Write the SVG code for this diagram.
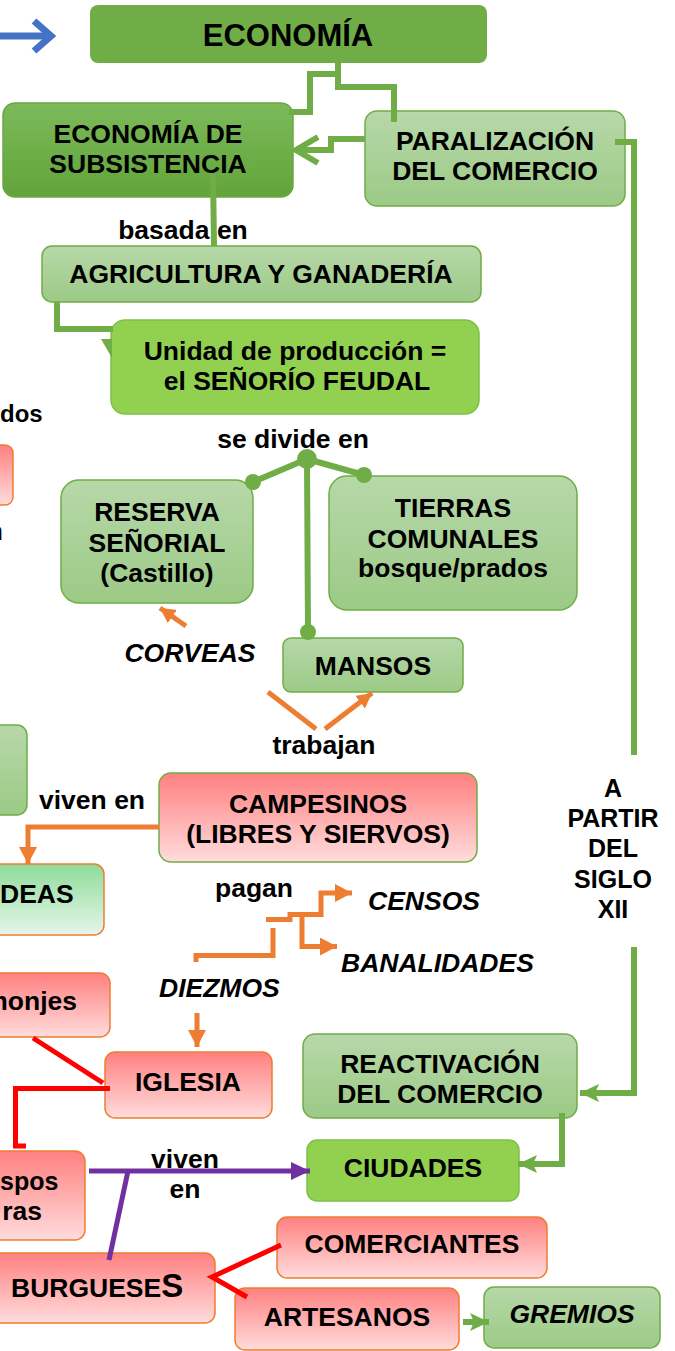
<svg xmlns="http://www.w3.org/2000/svg" width="675" height="1351" viewBox="0 0 675 1351">
<defs>
<linearGradient id="gLight" x1="0" y1="0" x2="0" y2="1"><stop offset="0" stop-color="#b7d8a9"/><stop offset="1" stop-color="#9cca86"/></linearGradient>
<linearGradient id="gDark" x1="0" y1="0" x2="0" y2="1"><stop offset="0" stop-color="#7cba5a"/><stop offset="1" stop-color="#62a43a"/></linearGradient>
<linearGradient id="gPink" x1="0" y1="0" x2="0" y2="1"><stop offset="0" stop-color="#ff8080"/><stop offset="1" stop-color="#ffdcdc"/></linearGradient>
<linearGradient id="gMint" x1="0" y1="0" x2="0" y2="1"><stop offset="0" stop-color="#8edc9a"/><stop offset="1" stop-color="#e6f6e9"/></linearGradient>
<marker id="mo" markerUnits="userSpaceOnUse" markerWidth="18" markerHeight="18" refX="17" refY="9" orient="auto"><path d="M0,0 L17,9 L0,18 z" fill="#ed7d31"/></marker>
<marker id="mos" markerUnits="userSpaceOnUse" markerWidth="16" markerHeight="16" refX="15" refY="8" orient="auto"><path d="M0,0 L15,8 L0,16 z" fill="#ed7d31"/></marker>
<marker id="mg" markerUnits="userSpaceOnUse" markerWidth="20" markerHeight="20" refX="19" refY="9" orient="auto"><path d="M0,0 L19,9 L0,18 L4,9 z" fill="#70ad47"/></marker>
<marker id="mp" markerUnits="userSpaceOnUse" markerWidth="20" markerHeight="20" refX="19" refY="9" orient="auto"><path d="M0,0 L19,9 L0,18 z" fill="#7030a0"/></marker>
</defs>
<style>
text{font-family:"Liberation Sans",Arial,sans-serif;font-weight:bold;font-size:26.5px;fill:#000;text-anchor:middle}
.it{font-style:italic}
.st{text-anchor:start}
.en{text-anchor:end}
.lg{fill:url(#gLight);stroke:#70ad47;stroke-width:1.5}
.pk{fill:url(#gPink);stroke:#ed7d31;stroke-width:1.5}
.bg{fill:#92d050;stroke:#7fc048;stroke-width:1.5}
.gl{fill:none;stroke:#70ad47;stroke-width:6}
.ol{fill:none;stroke:#ed7d31;stroke-width:5}
.rl{fill:none;stroke:#ff0000;stroke-width:5}
.pl{fill:none;stroke:#7030a0;stroke-width:5}
</style>
<rect width="675" height="1351" fill="#fff"/>

<g id="blue-arrow" fill="none" stroke="#4472c4" stroke-width="7">
<path d="M0 36 H48"/>
<path d="M34 21 L51 36 L34 51"/>
</g>

<g id="n-economia"><rect x="90" y="5" width="397" height="58" rx="8" fill="#70ad47"/><text x="288" y="46" style="font-size:31px">ECONOMÍA</text></g>
<g id="n-subsistencia"><rect x="3" y="103" width="290" height="94" rx="12" fill="url(#gDark)" stroke="#6aa843" stroke-width="1.5"/><text x="148" y="143">ECONOMÍA DE</text><text x="148" y="173">SUBSISTENCIA</text></g>
<g id="n-paralizacion"><rect x="365" y="111" width="260" height="95" rx="12" class="lg"/><text x="495" y="150">PARALIZACIÓN</text><text x="495" y="180">DEL COMERCIO</text></g>
<g id="n-agricultura"><rect x="42" y="246" width="439" height="56" rx="10" class="lg"/><text x="261" y="283">AGRICULTURA Y GANADERÍA</text></g>
<g id="n-unidad"><rect x="111" y="320" width="368" height="94" rx="14" class="bg"/><text x="295" y="360">Unidad de producción =</text><text x="297" y="390">el SEÑORÍO FEUDAL</text></g>
<g id="n-left-pink"><rect x="-30" y="445" width="43" height="60" rx="8" class="pk"/></g>
<g id="n-reserva"><rect x="61" y="480" width="192" height="123" rx="18" class="lg"/><text x="157" y="521">RESERVA</text><text x="157" y="552">SEÑORIAL</text><text x="157" y="582">(Castillo)</text></g>
<g id="n-tierras"><rect x="329" y="476" width="248" height="134" rx="18" class="lg"/><text x="453" y="517">TIERRAS</text><text x="453" y="548">COMUNALES</text><text x="453" y="577">bosque/prados</text></g>
<g id="n-mansos"><rect x="283" y="638" width="180" height="54" rx="8" class="lg"/><text x="373" y="675">MANSOS</text></g>
<g id="n-left-green"><rect x="-30" y="725" width="57" height="90" rx="10" class="lg"/></g>
<g id="n-campesinos"><rect x="159" y="773" width="318" height="89" rx="12" fill="url(#gPink)" stroke="#70ad47" stroke-width="1.5"/><text x="318" y="813">CAMPESINOS</text><text x="318" y="843">(LIBRES Y SIERVOS)</text></g>
<g id="n-aldeas"><rect x="-30" y="864" width="134" height="71" rx="10" fill="url(#gMint)" stroke="#ed7d31" stroke-width="1.5"/><text x="0" y="903" class="st">DEAS</text></g>
<g id="n-monjes"><rect x="-30" y="973" width="140" height="64" rx="10" class="pk"/><text x="77" y="1010" class="en">monjes</text></g>
<g id="n-iglesia"><rect x="105" y="1052" width="167" height="66" rx="10" class="pk"/><text x="188" y="1091">IGLESIA</text></g>
<g id="n-reactivacion"><rect x="303" y="1034" width="274" height="84" rx="12" class="lg"/><text x="440" y="1073">REACTIVACIÓN</text><text x="440" y="1103">DEL COMERCIO</text></g>
<g id="n-obispos"><rect x="-30" y="1151" width="115" height="89" rx="10" class="pk"/><text x="0" y="1190" class="st" style="font-size:25px">spos</text><text x="42" y="1220" class="en">ras</text></g>
<g id="n-ciudades"><rect x="307" y="1140" width="212" height="61" rx="10" class="bg"/><text x="413" y="1177">CIUDADES</text></g>
<g id="n-comerciantes"><rect x="277" y="1217" width="270" height="61" rx="10" class="pk"/><text x="412" y="1253">COMERCIANTES</text></g>
<g id="n-burgueses"><rect x="-20" y="1253" width="235" height="70" rx="10" class="pk"/><text x="11" y="1297" class="st">BURGUESE<tspan style="font-size:33px">S</tspan></text></g>
<g id="n-artesanos"><rect x="235" y="1288" width="224" height="62" rx="10" class="pk"/><text x="347" y="1326">ARTESANOS</text></g>
<g id="n-gremios"><rect x="484" y="1287" width="176" height="61" rx="10" class="lg"/><text x="572" y="1323" class="it">GREMIOS</text></g>

<g id="connectors">
<path class="gl" d="M338 63 V87 H394 V122"/>
<path class="gl" d="M338 74 H310 V112 H289"/>
<path class="gl" d="M365 139 H331 V150 H297"/>
<path class="gl" d="M318 137 L296 150 L318 163"/>
<path class="gl" d="M615 142 H634 V755"/>
<path class="gl" d="M634 947 V1093 H580" marker-end="url(#mg)"/>
<path class="gl" d="M213 173 L214 246"/>
<path class="gl" d="M57 302 V329 H113"/>
<polygon points="101,339 112,339 112,358" fill="#70ad47"/>
<path class="gl" d="M307 459 L253 482 M307 459 L364 475 M307 459 L308 632"/>
<g fill="#70ad47">
<circle cx="307" cy="459" r="10"/><circle cx="253" cy="482" r="8"/><circle cx="364" cy="475" r="8"/><circle cx="308" cy="632" r="8"/>
</g>
<path class="gl" d="M562 1113 V1164 H518" marker-end="url(#mg)"/>
<path class="gl" d="M463 1322 H489" marker-end="url(#mg)"/>
<path class="ol" d="M186 626 L160 608" marker-end="url(#mos)"/>
<path class="ol" d="M268 692 L316 729"/>
<path class="ol" d="M325 729 L372 693" marker-end="url(#mos)"/>
<path class="ol" d="M159 827 H28 V864" marker-end="url(#mo)"/>
<path class="ol" d="M266 919.5 H290 V914.5 H321 V893 H352" marker-end="url(#mo)"/>
<path class="ol" d="M302 915 V946.5 H337" marker-end="url(#mo)"/>
<path class="ol" d="M273 928 V955.5 H196 V962"/>
<path class="ol" d="M197 1013 V1047" marker-end="url(#mo)"/>
<path class="rl" d="M33 1038 L103 1083"/>
<path class="rl" d="M110 1088.5 H15.5 V1146 H26"/>
<path class="rl" d="M281 1245 L212 1277 L247 1297"/>
<path class="pl" d="M89 1171 H310" marker-end="url(#mp)"/>
<path class="pl" d="M128 1171 L109 1260"/>
</g>

<g id="labels">
<text x="183" y="239">basada en</text>
<text x="0" y="422" class="st" style="font-size:24px">dos</text>
<text x="3" y="540" class="en">n</text>
<text x="293" y="448">se divide en</text>
<text x="190" y="662" class="it">CORVEAS</text>
<text x="324" y="754">trabajan</text>
<text x="39" y="809" class="st">viven en</text>
<text x="254" y="897">pagan</text>
<text x="368" y="910" class="it st">CENSOS</text>
<text x="341" y="972" class="it st">BANALIDADES</text>
<text x="159" y="997" class="it st">DIEZMOS</text>
<text x="185" y="1168">viven</text>
<text x="185" y="1198">en</text>
<g id="a-partir">
<text x="613" y="797" style="font-size:25px">A</text>
<text x="613" y="827" style="font-size:25px">PARTIR</text>
<text x="613" y="857" style="font-size:25px">DEL</text>
<text x="613" y="888" style="font-size:25px">SIGLO</text>
<text x="613" y="918" style="font-size:25px">XII</text>
</g>
</g>
</svg>
